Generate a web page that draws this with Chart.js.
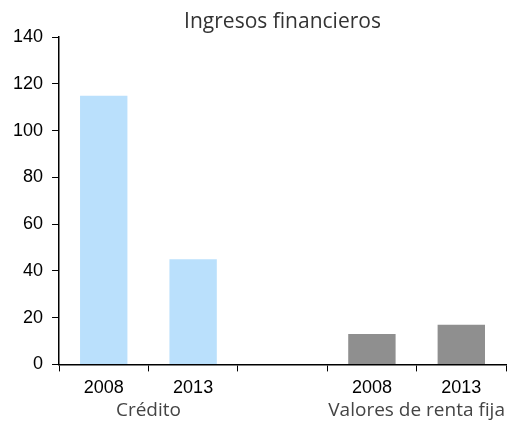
<!DOCTYPE html>
<html>
<head>
<meta charset="utf-8">
<script src="https://cdn.jsdelivr.net/npm/chart.js@4"></script>
<style>
  html, body { margin: 0; padding: 0; background: #fff; }
  #wrap { width: 509px; height: 423px; }
</style>
</head>
<body>
<div id="wrap"><canvas id="chart"></canvas></div>
<script>
const categories = ['2008', '2013', '', '2008', '2013'];
const values = [115, 45, null, 13, 17];
const barColors = ['#bae0fc', '#bae0fc', '#bae0fc', '#8f8f8f', '#8f8f8f'];
const groups = [
  { label: 'Crédito', from: 0, to: 1 },
  { label: 'Valores de renta fija', from: 3, to: 4 }
];

// etiquetas de grupo bajo el eje x
const groupLabels = {
  id: 'groupLabels',
  afterDraw(chart) {
    const ctx = chart.ctx;
    const x = chart.scales.x;
    ctx.save();
    ctx.font = '19px "Open Sans"';
    ctx.fillStyle = '#444';
    ctx.textAlign = 'center';
    ctx.textBaseline = 'middle';
    groups.forEach(g => {
      const cx = (x.getPixelForValue(g.from) + x.getPixelForValue(g.to)) / 2;
      ctx.fillText(g.label, Math.min(cx, chart.width - ctx.measureText(g.label).width / 2 - 3), 411);
    });
    ctx.restore();
  }
};

new Chart(document.getElementById('chart'), {
  type: 'bar',
  data: {
    labels: categories,
    datasets: [{
      data: values,
      backgroundColor: barColors,
      barPercentage: 0.53,
      categoryPercentage: 1
    }]
  },
  options: {
    responsive: true,
    maintainAspectRatio: false,
    animation: false,
    layout: { padding: { left: 4, right: 3, top: 0, bottom: 18 } },
    plugins: {
      legend: { display: false },
      tooltip: { enabled: false },
      title: {
        display: true,
        text: 'Ingresos financieros',
        fullSize: false,
        color: '#333',
        font: { family: 'Open Sans', size: 21, weight: 'normal' },
        padding: { top: 9, bottom: 3 }
      }
    },
    scales: {
      x: {
        grid: { drawOnChartArea: false, drawTicks: true, tickLength: 7, color: '#000', offset: true },
        border: { color: '#000', width: 1.5 },
        ticks: { color: '#000', font: { family: 'Liberation Sans', size: 18 }, padding: 6, maxRotation: 0 }
      },
      y: {
        min: 0,
        max: 140,
        ticks: { stepSize: 20, color: '#000', font: { family: 'Liberation Sans', size: 18 }, padding: 9 },
        grid: { drawOnChartArea: false, drawTicks: true, tickLength: 7, color: '#000' },
        border: { color: '#000', width: 1.5 }
      }
    }
  },
  plugins: [groupLabels]
});
</script>
</body>
</html>
